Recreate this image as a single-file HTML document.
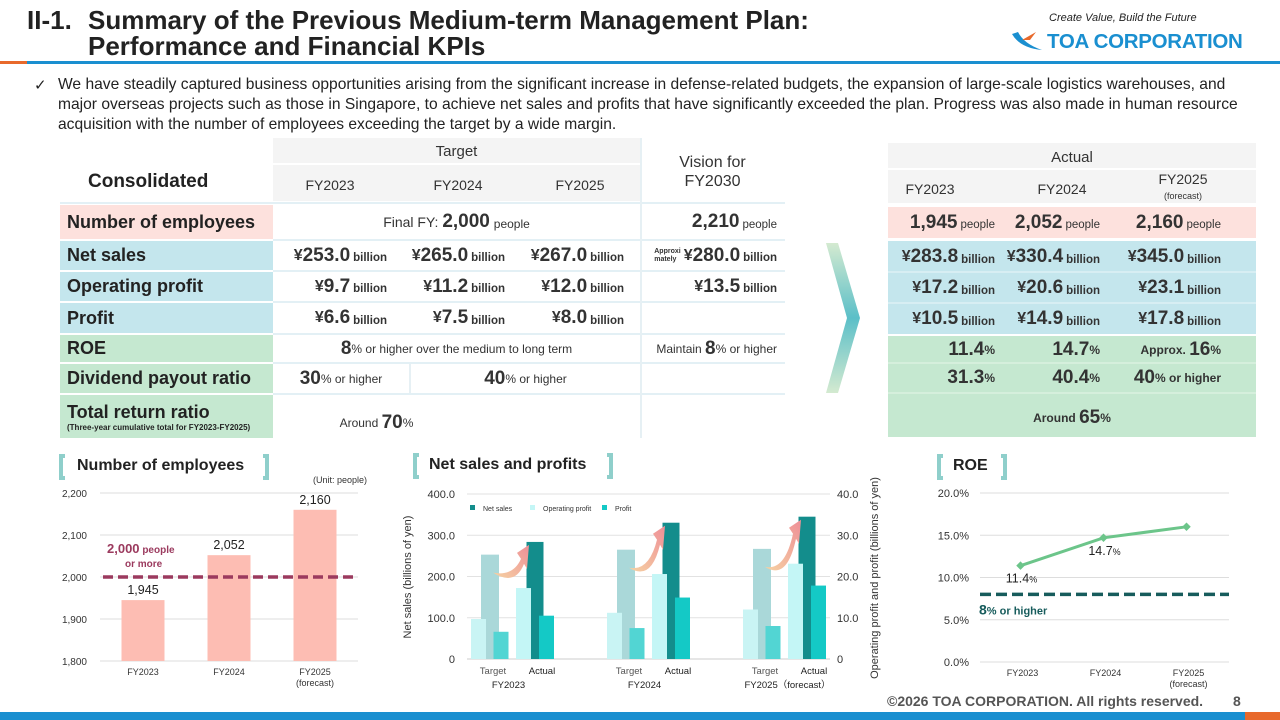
<!DOCTYPE html>
<html><head><meta charset="utf-8">
<style>
*{margin:0;padding:0;box-sizing:border-box}
body{width:1280px;height:720px;overflow:hidden;background:#fff;font-family:"Liberation Sans",Arial,sans-serif;color:#222;position:relative}
.a{position:absolute}
.t{font-weight:bold;font-size:26px;line-height:26px;color:#222}
.lbl{position:absolute;left:60px;width:213px;font-weight:bold;font-size:18px;padding-left:7px;display:flex;align-items:center}
.cell{position:absolute;display:flex;align-items:center;justify-content:flex-end;font-weight:bold;color:#333;white-space:nowrap}
.cell b{font-size:19px}
.cell s{text-decoration:none;font-size:11.5px;margin-left:3px;padding-top:5px}
.cell.c{justify-content:center;font-weight:normal}
.hd{position:absolute;font-size:14px;color:#333;text-align:center}
.sep{position:absolute;height:2px;background:#e3f0f5}
.ct{position:absolute;font-weight:bold;font-size:16px;color:#222}
.br{position:absolute;width:6px;height:26px;border:4px solid #8fcfcb;}
svg text{font-family:"Liberation Sans",Arial,sans-serif}
</style></head><body>
<div class="a t" style="left:27px;top:7px"><span style="display:inline-block;width:61px">II-1.</span>Summary of the Previous Medium-term Management Plan:<br><span style="padding-left:61px">Performance and Financial KPIs</span></div>
<div class="a" style="left:1049px;top:12px;font-size:11px;font-style:italic;color:#222">Create Value, Build the Future</div>
<div class="a" style="left:1010px;top:30px;width:36px;height:22px"><svg width="36" height="22"><path d="M2 4 Q10 18 32 20 Q14 14 8 2Z" fill="#1a8fd0"/><path d="M12 10 L26 2 L20 10Z" fill="#e8692b"/></svg></div>
<div class="a" style="left:1047px;top:30px;font-size:20.5px;font-weight:bold;color:#1a8fd0;letter-spacing:-0.3px">TOA CORPORATION</div>
<div class="a" style="left:0;top:61px;width:27px;height:3px;background:#e8692b"></div>
<div class="a" style="left:27px;top:61px;width:1253px;height:3px;background:#1a8fd0"></div>
<div class="a" style="left:34px;top:76px;font-size:15px">✓</div>
<div class="a" style="left:58px;top:75px;white-space:nowrap;font-size:15.6px;line-height:20px;color:#222">We have steadily captured business opportunities arising from the significant increase in defense-related budgets, the expansion of large-scale logistics warehouses, and<br>major overseas projects such as those in Singapore, to achieve net sales and profits that have significantly exceeded the plan. Progress was also made in human resource<br>acquisition with the number of employees exceeding the target by a wide margin.</div>

<!-- Target table -->
<div>
<div class="a" style="left:273px;top:138px;width:367px;height:25px;background:#f4f4f4"></div>
<div class="a" style="left:273px;top:165px;width:367px;height:36px;background:#f4f4f4"></div>
<div class="hd" style="left:273px;top:143px;width:367px;font-size:15px">Target</div>
<div class="a" style="left:88px;top:171px;font-weight:bold;font-size:19px">Consolidated</div>
<div class="hd" style="left:290px;top:177px;width:80px">FY2023</div>
<div class="hd" style="left:418px;top:177px;width:80px">FY2024</div>
<div class="hd" style="left:540px;top:177px;width:80px">FY2025</div>
<div class="hd" style="left:640px;top:153px;width:145px;font-size:16px;line-height:19px">Vision for<br>FY2030</div>
<div class="sep" style="left:60px;top:202px;width:725px"></div>
<div class="lbl" style="top:205px;height:34px;background:#fde1dd">Number of employees</div>
<div class="lbl" style="top:241px;height:29px;background:#c4e6ed">Net sales</div>
<div class="lbl" style="top:272px;height:29px;background:#c4e6ed">Operating profit</div>
<div class="lbl" style="top:303px;height:30px;background:#c4e6ed">Profit</div>
<div class="lbl" style="top:335px;height:27px;background:#c5e8d0">ROE</div>
<div class="lbl" style="top:364px;height:29px;background:#c5e8d0">Dividend payout ratio</div>
<div class="lbl" style="top:395px;height:43px;background:#c5e8d0;flex-direction:column;align-items:flex-start;justify-content:center">Total return ratio<span style="font-size:8px">(Three-year cumulative total for FY2023-FY2025)</span></div>
<div class="sep" style="left:273px;top:239px;width:512px"></div>
<div class="sep" style="left:273px;top:270px;width:512px"></div>
<div class="sep" style="left:273px;top:301px;width:512px"></div>
<div class="sep" style="left:273px;top:333px;width:512px"></div>
<div class="sep" style="left:273px;top:362px;width:512px"></div>
<div class="sep" style="left:273px;top:393px;width:512px"></div>
<div class="a" style="left:640px;top:138px;width:2px;height:300px;background:#e6f0f4"></div>
<div class="cell c" style="left:273px;top:205px;width:367px;height:34px;font-size:14px">Final FY:&nbsp;<b style="font-weight:bold">2,000</b>&nbsp;<span style="font-size:12px;padding-top:4px">people</span></div>
<div class="cell" style="left:273px;top:241px;width:114px;height:29px">¥<b>253.0</b><s>billion</s></div>
<div class="cell" style="left:387px;top:241px;width:118px;height:29px">¥<b>265.0</b><s>billion</s></div>
<div class="cell" style="left:505px;top:241px;width:119px;height:29px">¥<b>267.0</b><s>billion</s></div>
<div class="cell" style="left:273px;top:272px;width:114px;height:29px">¥<b>9.7</b><s>billion</s></div>
<div class="cell" style="left:387px;top:272px;width:118px;height:29px">¥<b>11.2</b><s>billion</s></div>
<div class="cell" style="left:505px;top:272px;width:119px;height:29px">¥<b>12.0</b><s>billion</s></div>
<div class="cell" style="left:273px;top:303px;width:114px;height:30px">¥<b>6.6</b><s>billion</s></div>
<div class="cell" style="left:387px;top:303px;width:118px;height:30px">¥<b>7.5</b><s>billion</s></div>
<div class="cell" style="left:505px;top:303px;width:119px;height:30px">¥<b>8.0</b><s>billion</s></div>
<div class="cell c" style="left:273px;top:335px;width:367px;height:27px;font-size:12px"><b>8</b>% or higher over the medium to long term</div>
<div class="cell c" style="left:273px;top:364px;width:136px;height:29px;font-size:12px"><b>30</b>% or higher</div>
<div class="a" style="left:409px;top:364px;width:2px;height:29px;background:#e6f0f4"></div>
<div class="cell c" style="left:411px;top:364px;width:229px;height:29px;font-size:12px"><b>40</b>% or higher</div>
<div class="cell c" style="left:273px;top:405px;width:207px;height:36px;font-size:12px">Around&nbsp;<b>70</b>%</div>
<div class="cell" style="left:642px;top:205px;width:135px;height:34px"><b>2,210</b><s style="font-weight:normal">people</s></div>
<div class="cell" style="left:642px;top:241px;width:135px;height:29px"><span style="font-size:7px;line-height:8px;margin-right:3px">Approxi<br>mately</span>¥<b>280.0</b><s>billion</s></div>
<div class="cell" style="left:642px;top:272px;width:135px;height:29px">¥<b>13.5</b><s>billion</s></div>
<div class="cell" style="left:642px;top:335px;width:135px;height:27px;font-weight:normal;font-size:12px">Maintain&nbsp;<b>8</b>% or higher</div>
</div>

<svg class="a" style="left:820px;top:240px" width="45" height="155"><defs><linearGradient id="cg" x1="0" y1="0" x2="0" y2="1"><stop offset="0" stop-color="#d4ead0"/><stop offset=".5" stop-color="#5bbfc8"/><stop offset="1" stop-color="#d4ead0"/></linearGradient></defs><polygon points="6,3 18,3 40,78 18,153 6,153 27,78" fill="url(#cg)"/></svg>

<!-- Actual table -->
<div>
<div class="a" style="left:888px;top:143px;width:368px;height:25px;background:#f4f4f4"></div>
<div class="a" style="left:888px;top:170px;width:368px;height:33px;background:#f4f4f4"></div>
<div class="hd" style="left:888px;top:149px;width:368px;font-size:15px">Actual</div>
<div class="hd" style="left:890px;top:181px;width:80px">FY2023</div>
<div class="hd" style="left:1022px;top:181px;width:80px">FY2024</div>
<div class="hd" style="left:1143px;top:172px;width:80px;line-height:15px">FY2025<br><span style="font-size:9px">(forecast)</span></div>
<div class="a" style="left:888px;top:207px;width:368px;height:31px;background:#fde1dd"></div>
<div class="a" style="left:888px;top:241px;width:368px;height:93px;background:#c4e6ed"></div>
<div class="a" style="left:888px;top:336px;width:368px;height:101px;background:#c5e8d0"></div>
<div class="sep" style="left:888px;top:271px;width:368px;background:#d7eef3"></div>
<div class="sep" style="left:888px;top:302px;width:368px;background:#d7eef3"></div>
<div class="sep" style="left:888px;top:362px;width:368px;background:#d5efdc"></div>
<div class="sep" style="left:888px;top:392px;width:368px;background:#d5efdc"></div>
<div class="cell" style="left:888px;top:207px;width:107px;height:31px"><b>1,945</b><s style="font-weight:normal">people</s></div>
<div class="cell" style="left:995px;top:207px;width:105px;height:31px"><b>2,052</b><s style="font-weight:normal">people</s></div>
<div class="cell" style="left:1100px;top:207px;width:121px;height:31px"><b>2,160</b><s style="font-weight:normal">people</s></div>
<div class="cell" style="left:888px;top:242px;width:107px;height:30px">¥<b>283.8</b><s>billion</s></div>
<div class="cell" style="left:995px;top:242px;width:105px;height:30px">¥<b>330.4</b><s>billion</s></div>
<div class="cell" style="left:1100px;top:242px;width:121px;height:30px">¥<b>345.0</b><s>billion</s></div>
<div class="cell" style="left:888px;top:273px;width:107px;height:30px">¥<b>17.2</b><s>billion</s></div>
<div class="cell" style="left:995px;top:273px;width:105px;height:30px">¥<b>20.6</b><s>billion</s></div>
<div class="cell" style="left:1100px;top:273px;width:121px;height:30px">¥<b>23.1</b><s>billion</s></div>
<div class="cell" style="left:888px;top:304px;width:107px;height:30px">¥<b>10.5</b><s>billion</s></div>
<div class="cell" style="left:995px;top:304px;width:105px;height:30px">¥<b>14.9</b><s>billion</s></div>
<div class="cell" style="left:1100px;top:304px;width:121px;height:30px">¥<b>17.8</b><s>billion</s></div>
<div class="cell" style="left:888px;top:336px;width:107px;height:27px;font-size:12px"><b>11.4</b>%</div>
<div class="cell" style="left:995px;top:336px;width:105px;height:27px;font-size:12px"><b>14.7</b>%</div>
<div class="cell" style="left:1100px;top:336px;width:121px;height:27px;font-size:12px">Approx.&nbsp;<b>16</b>%</div>
<div class="cell" style="left:888px;top:364px;width:107px;height:28px;font-size:12px"><b>31.3</b>%</div>
<div class="cell" style="left:995px;top:364px;width:105px;height:28px;font-size:12px"><b>40.4</b>%</div>
<div class="cell" style="left:1100px;top:364px;width:121px;height:28px;font-size:12px"><b>40</b>% or higher</div>
<div class="cell c" style="left:888px;top:402px;width:368px;height:32px;font-size:12px;font-weight:bold">Around&nbsp;<b>65</b>%</div>
</div>

<!-- chart headers -->
<div class="br" style="left:59px;top:454px;border-right:none"></div><div class="ct" style="left:77px;top:457px">Number of employees</div><div class="br" style="left:263px;top:454px;border-left:none"></div>
<div class="a" style="left:313px;top:475px;font-size:9px;color:#333">(Unit: people)</div>
<div class="br" style="left:413px;top:453px;border-right:none"></div><div class="ct" style="left:429px;top:456px">Net sales and profits</div><div class="br" style="left:607px;top:453px;border-left:none"></div>
<div class="br" style="left:937px;top:454px;border-right:none"></div><div class="ct" style="left:953px;top:457px">ROE</div><div class="br" style="left:1001px;top:454px;border-left:none"></div>

<svg class="a" style="left:0;top:0" width="1280" height="720" id="charts"></svg>

<div class="a" style="left:887px;top:693px;font-size:14px;font-weight:bold;color:#555">©2026 TOA CORPORATION. All rights reserved.</div>
<div class="a" style="left:1233px;top:693px;font-size:14px;font-weight:bold;color:#555">8</div>
<div class="a" style="left:0;top:712px;width:1245px;height:8px;background:#1a8fd0"></div>
<div class="a" style="left:1245px;top:712px;width:35px;height:8px;background:#e8692b"></div>

<script>
const empCats=["FY2023","FY2024","FY2025"];
const empValues=[1945,2052,2160];
const empLabels=["1,945","2,052","2,160"];
const empTicks=[1800,1900,2000,2100,2200];
const empTickLabels=["1,800","1,900","2,000","2,100","2,200"];
const empTarget=2000;

const salesGroups=["FY2023","FY2024","FY2025（forecast）"];
const salesTarget=[253.0,265.0,267.0];
const salesActual=[283.8,330.4,345.0];
const opTarget=[9.7,11.2,12.0];
const opActual=[17.2,20.6,23.1];
const profitTarget=[6.6,7.5,8.0];
const profitActual=[10.5,14.9,17.8];
const salesTicks=[0,100,200,300,400];
const salesTickLabels=["0","100.0","200.0","300.0","400.0"];
const profitTickLabels=["0","10.0","20.0","30.0","40.0"];

const roeCats=["FY2023","FY2024","FY2025"];
const roeValues=[11.4,14.7,16.0];
const roeLabels=["11.4","14.7",""];
const roeTicks=[0,5,10,15,20];
const roeTarget=8;

const NS="http://www.w3.org/2000/svg";
const svg=document.getElementById('charts');


function mk(tag,attrs,parent,text){const e=document.createElementNS(NS,tag);for(const k in attrs)e.setAttribute(k,attrs[k]);if(text!==undefined)e.textContent=text;(parent||svg).appendChild(e);return e;}

(function(){
 const g=mk('g',{});
 
 
 const x0=100,x1=358,yB=661,yT=493,vmin=1800,vmax=2200;
 const y=v=>yB-(v-vmin)/(vmax-vmin)*(yB-yT);
 const step=(x1-x0)/empCats.length;
 const xc=i=>x0+step*(i+0.5);
 empTicks.forEach((t,i)=>{mk('line',{x1:x0,x2:x1,y1:y(t),y2:y(t),stroke:'#ddd'},g);
  const tl=mk('text',{x:x0-13,y:y(t)+4,'text-anchor':'end','font-size':10,fill:'#333'},g,empTickLabels[i]);
  
  });
 empValues.forEach((v,i)=>{
  const r=mk('rect',{x:xc(i)-21.5,y:y(v),width:43,height:yB-y(v),fill:'#fdbdb3'},g);
  
  
  mk('text',{x:xc(i),y:y(v)-6,'text-anchor':'middle','font-size':12.5,fill:'#222'},g,empLabels[i]);
  const c=mk('text',{x:xc(i),y:yB+14,'text-anchor':'middle','font-size':9,fill:'#333'},g,empCats[i]);
  
  
  if(i===2)mk('text',{x:xc(i),y:yB+25,'text-anchor':'middle','font-size':9,fill:'#333'},g,'(forecast)');
 });
 const d=mk('line',{x1:x0+3,x2:x1-4,y1:y(empTarget),y2:y(empTarget),stroke:'#9b3a5e','stroke-width':3.5,'stroke-dasharray':'10 5'},g);
 
 
 const tt=mk('text',{x:107,y:y(empTarget)-24,'font-size':13,'font-weight':'bold',fill:'#9b3a5e'},g);
 mk('tspan',{},tt,'2,000');mk('tspan',{'font-size':10},tt,' people');
 mk('text',{x:125,y:y(empTarget)-10,'font-size':10,'font-weight':'bold',fill:'#9b3a5e'},g,'or more');
})();

(function(){
 const g=mk('g',{});
 
 
 const defs=mk('defs',{},g);
 const lg=mk('linearGradient',{id:'ag',x1:0,y1:1,x2:1,y2:0},defs);
 mk('stop',{offset:0,'stop-color':'#f6d3a3'},lg);mk('stop',{offset:1,'stop-color':'#ee8f97'},lg);
 const x0=467,x1=830,yB=659,yT=494;
 const yL=v=>yB-v/400*(yB-yT), yR=v=>yB-v/40*(yB-yT);
 salesTicks.forEach((t,i)=>{
  if(i>0)mk('line',{x1:x0,x2:x1,y1:yL(t),y2:yL(t),stroke:'#e2e2e2'},g);
  mk('text',{x:x0-12,y:yL(t)+4,'text-anchor':'end','font-size':11,fill:'#333'},g,salesTickLabels[i]);
  mk('text',{x:x1+7,y:yL(t)+4,'font-size':11,fill:'#333'},g,profitTickLabels[i]);
 });
 mk('line',{x1:x0,x2:x1,y1:yB,y2:yB,stroke:'#ccc'},g);
 mk('text',{transform:'translate(411,577) rotate(-90)','text-anchor':'middle','font-size':11,fill:'#333'},g,'Net sales (billions of yen)');
 mk('text',{transform:'translate(878,578) rotate(-90)','text-anchor':'middle','font-size':11,fill:'#333'},g,'Operating profit and profit  (billions of yen)');
 [['#138d8c','Net sales',470],['#c4f6f6','Operating profit',530],['#14c9c6','Profit',602]].forEach(l=>{
  mk('rect',{x:l[2],y:505,width:5,height:5,fill:l[0]},g);
  mk('text',{x:l[2]+13,y:511,'font-size':7,fill:'#333'},g,l[1]);});
 const gap=136;
 function bar(x,w,top,col,nm){const r=mk('rect',{x:x-w/2,y:top,width:w,height:yB-top,fill:col},g);
  
  }
 salesGroups.forEach((name,i)=>{
  const tc=490+gap*i, ac=535+gap*i;
  bar(tc,18,yL(salesTarget[i]),'#aad8d9','net-sales-target-bar');
  bar(tc-11.5,15,yR(opTarget[i]),'#c9f4f4','op-profit-target-bar');
  bar(tc+11,15,yR(profitTarget[i]),'#52d5d3','profit-target-bar');
  bar(ac,17,yL(salesActual[i]),'#138d8c','net-sales-actual-bar');
  bar(ac-11.5,15,yR(opActual[i]),'#c4f6f6','op-profit-actual-bar');
  bar(ac+11.5,15,yR(profitActual[i]),'#14c9c6','profit-actual-bar');
  const sx=tc+9, sy=yL(salesTarget[i])+18, ex=ac-6, ey=yL(salesActual[i])+3;
  const p=mk('path',{d:`M${sx-6} ${sy} Q${sx+14} ${sy+4} ${ex-8} ${ey+14} L${ex-12} ${ey+8} L${ex} ${ey} L${ex-2} ${ey+24} L${ex-5} ${ey+19} Q${sx+16} ${sy+14} ${sx-6} ${sy}Z`,fill:'url(#ag)'},g);
  
  
  mk('text',{x:tc+3,y:yB+15,'text-anchor':'middle','font-size':9.5,fill:'#555'},g,'Target');
  mk('text',{x:ac+7,y:yB+15,'text-anchor':'middle','font-size':9.5,fill:'#222'},g,'Actual');
  mk('text',{x:i===2?(tc+ac)/2+3:(tc+ac)/2-4,y:yB+29,'text-anchor':'middle','font-size':9.5,fill:'#222'},g,name);
 });
})();

(function(){
 const g=mk('g',{});
 
 
 const x0=980,x1=1229,yB=662,yT=493;
 const y=v=>yB-v/20*(yB-yT);
 const step=(x1-x0)/roeCats.length, xc=i=>x0+step*(i+0.5)-1;
 roeTicks.forEach(t=>{mk('line',{x1:x0,x2:x1,y1:y(t),y2:y(t),stroke:'#ddd'},g);
  mk('text',{x:x0-11,y:y(t)+4,'text-anchor':'end','font-size':11,fill:'#333'},g,t.toFixed(1)+'%');});
 const tl=mk('line',{x1:x0,x2:x1,y1:y(roeTarget),y2:y(roeTarget),stroke:'#175c5c','stroke-width':3.5,'stroke-dasharray':'11 5'},g);
 
 
 const t8=mk('text',{x:979,y:y(roeTarget)+20,'font-size':11,'font-weight':'bold',fill:'#175c5c'},g);
 mk('tspan',{'font-size':14},t8,'8');mk('tspan',{},t8,'% or higher');
 const pts=roeValues.map((v,i)=>xc(i)+','+y(v)).join(' ');
 const pl=mk('polyline',{points:pts,fill:'none',stroke:'#6cc58a','stroke-width':3},g);
 
 
 roeValues.forEach((v,i)=>{
  const m=mk('rect',{x:xc(i)-3,y:y(v)-3,width:6,height:6,fill:'#6cc58a',transform:`rotate(45 ${xc(i)} ${y(v)})`},g);
  
  
  if(roeLabels[i]){const t=mk('text',{x:xc(i)+1,y:y(v)+17,'text-anchor':'middle','font-size':12.5,fill:'#222'},g);
   mk('tspan',{},t,roeLabels[i]);mk('tspan',{'font-size':9},t,'%');}
  mk('text',{x:xc(i)+2,y:yB+14,'text-anchor':'middle','font-size':9,fill:'#333'},g,roeCats[i]);
  if(i===2)mk('text',{x:xc(i)+2,y:yB+25,'text-anchor':'middle','font-size':9,fill:'#333'},g,'(forecast)');
 });
})();
</script>
</body></html>
